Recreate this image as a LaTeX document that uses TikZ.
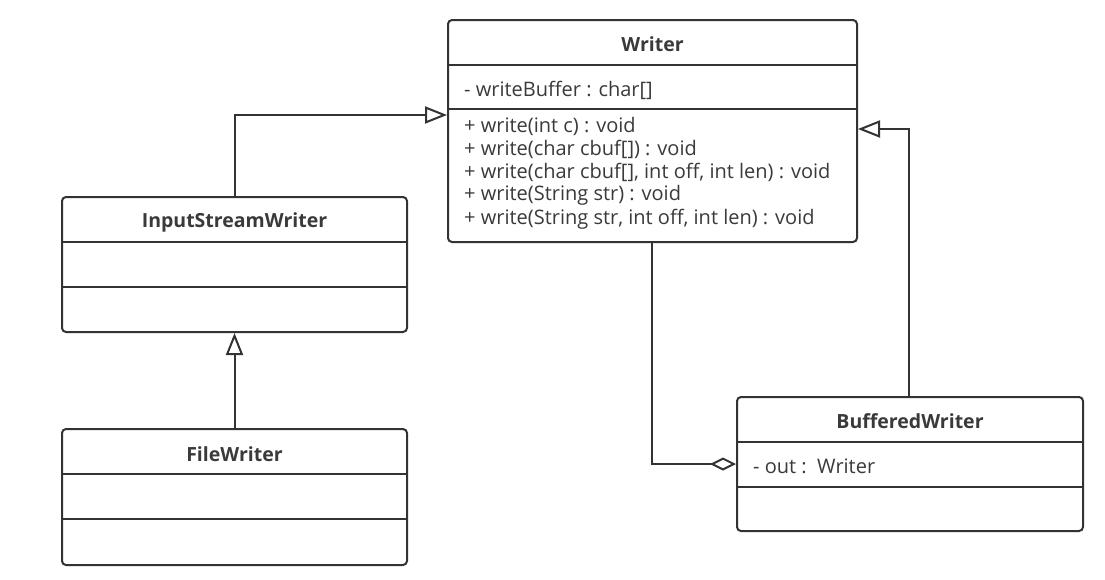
\documentclass[tikz,border=0pt]{standalone}
\usepackage{fontspec}
\setmainfont{Open Sans}
\usetikzlibrary{arrows.meta}
\definecolor{ink}{HTML}{333333}
\definecolor{txt}{HTML}{3A3A3A}
\tikzset{
  cls/.style={draw=ink, line width=2pt, rounded corners=4pt, fill=white, inner sep=0pt},
  divider/.style={draw=ink, line width=2pt},
  ttl/.style={font=\fontsize{19.5}{22}\selectfont\bfseries, text=txt, inner sep=0pt},
  mem/.style={font=\fontsize{20}{22}\selectfont, text=txt, inner sep=0pt, anchor=west},
  gen/.style={draw=ink, line width=2pt, -{Triangle[open, length=22pt, width=17pt, line width=2pt, fill=white]}},
  agg/.style={draw=ink, line width=2pt, {Diamond[open, length=26pt, width=13pt, line width=2pt, fill=white]}-},
}
\begin{document}
\begin{tikzpicture}[x=1pt,y=-1pt]
\useasboundingbox[fill=white] (0,0) rectangle (1105,579);
% classes
\node[cls, minimum width=409pt, minimum height=222pt] (W) at (652.5,131) {};
\node[cls, minimum width=345pt, minimum height=135pt] (ISW) at (234.5,264.5) {};
\node[cls, minimum width=345pt, minimum height=136pt] (FW) at (234.5,497) {};
\node[cls, minimum width=346pt, minimum height=134pt] (BW) at (910,464) {};
% dividers
\draw[divider] (W.west |- 0,65) -- (W.east |- 0,65);
\draw[divider] (W.west |- 0,109) -- (W.east |- 0,109);
\draw[divider] (ISW.west |- 0,242) -- (ISW.east |- 0,242);
\draw[divider] (ISW.west |- 0,287) -- (ISW.east |- 0,287);
\draw[divider] (FW.west |- 0,474) -- (FW.east |- 0,474);
\draw[divider] (FW.west |- 0,519) -- (FW.east |- 0,519);
\draw[divider] (BW.west |- 0,442) -- (BW.east |- 0,442);
\draw[divider] (BW.west |- 0,487) -- (BW.east |- 0,487);
% titles
\node[ttl] (Wt) at (652.5,44) {Writer};
\node[ttl] (ISWt) at (234.5,222) {InputStreamWriter};
\node[ttl] (FWt) at (234.5,454) {FileWriter};
\node[ttl] (BWt) at (910,421) {BufferedWriter};
% members
\node[mem] (Wa) at (464,90) {- writeBuffer : char[]};
\node[mem] (Wm1) at (464,126) {+ write(int c) : void};
\node[mem] (Wm2) at (464,149) {+ write(char cbuf[]) : void};
\node[mem] (Wm3) at (464,172) {+ write(char cbuf[], int off, int len) : void};
\node[mem] (Wm4) at (464,195) {+ write(String str) : void};
\node[mem] (Wm5) at (464,219) {+ write(String str, int off, int len) : void};
\node[mem] (BWa) at (753,466) {- out :\ \ Writer};
% connector coordinates
\coordinate (wl) at (W.west |- 0,115);
\coordinate (wr) at (W.east |- 0,129);
\coordinate (wb) at (652,242);
\coordinate (bl) at (BW.west |- 0,464);
% connectors
\draw[gen] (ISW.north) |- (wl);
\draw[gen] (FW.north) -- (ISW.south);
\draw[gen] (BW.north -| 909,0) |- (wr);
\draw[agg] (bl) -| (wb);
\end{tikzpicture}
\end{document}
